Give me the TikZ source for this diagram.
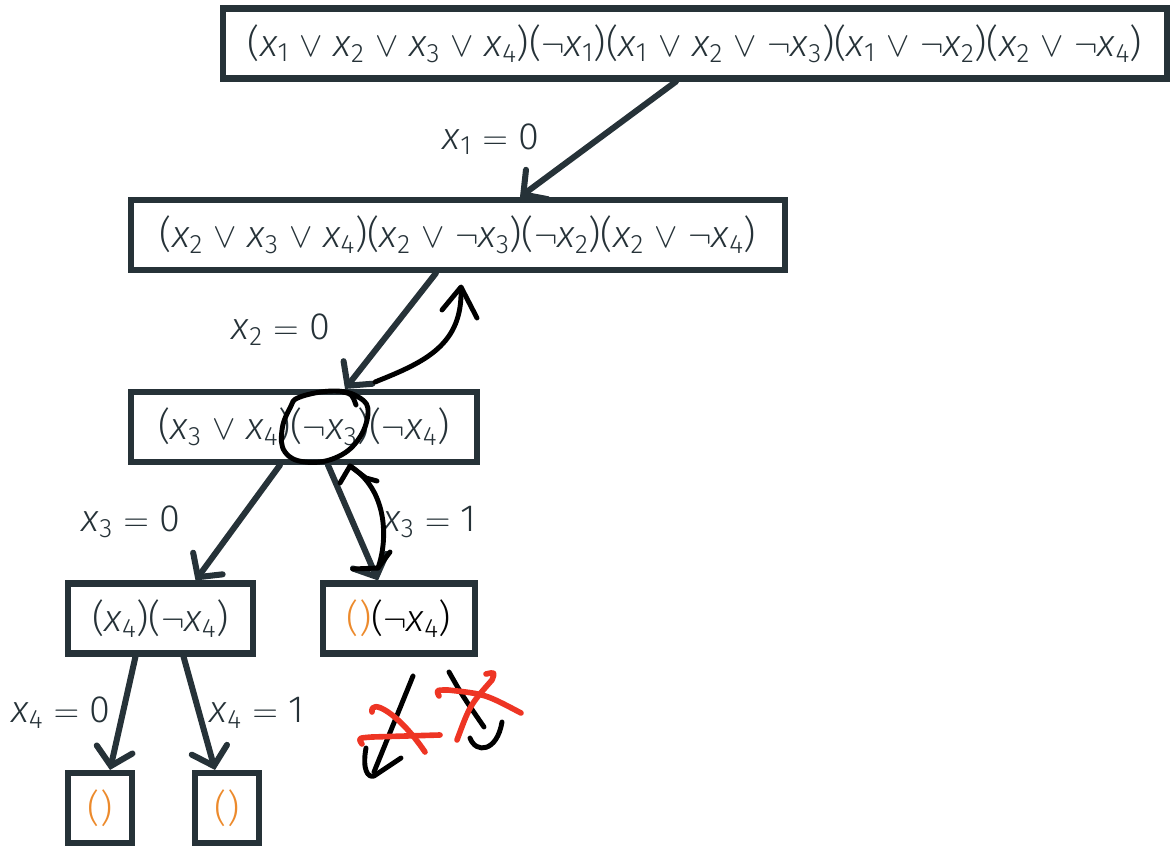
\documentclass[tikz,border=0pt]{standalone}
\usepackage{fontspec}
\setmainfont{Fira Sans}[UprightFont=* Light, ItalicFont=* Light Italic]
\usepackage{tikz}
\usetikzlibrary{arrows.meta,calc}

\definecolor{slate}{HTML}{263238}
\definecolor{empty}{HTML}{EC8A2C}
\definecolor{strike}{HTML}{EE3524}

\newcommand{\lit}[1]{\textit{x}\textsubscript{#1}}
\newcommand{\orr}{ $\vee$ }
\newcommand{\nlit}[1]{$\neg$\lit{#1}}
\newcommand{\is}{ $=$ }

\begin{document}
\begin{tikzpicture}[x=0.025cm, y=-0.025cm,
		clause/.style={draw=slate, line width=4.3pt, inner sep=0pt, minimum height=1.75cm,
			text=slate, font=\fontsize{27}{32}\selectfont},
		branch/.style={draw=slate, line width=4.3pt, line cap=round,
			-{Straight Barb[length=12pt,width=26pt,line cap=round]}},
		guess/.style={text=slate, font=\fontsize{27}{32}\selectfont},
		pen/.style={black, line width=3.5pt, line cap=round, line join=round},
		cross/.style={strike, line width=4pt, line cap=round, line join=round}]
		\useasboundingbox (0,0) rectangle (1173,848);
		
		% the formula after each guess
		\node[clause, minimum width=23.6cm] (root) at (695,43.5)
			{(\lit1\orr\lit2\orr\lit3\orr\lit4)(\nlit1)(\lit1\orr\lit2\orr\nlit3)(\lit1\orr\nlit2)(\lit2\orr\nlit4)};
		\node[clause, minimum width=16.35cm] (f1) at (458,235)
			{(\lit2\orr\lit3\orr\lit4)(\lit2\orr\nlit3)(\nlit2)(\lit2\orr\nlit4)};
		\node[clause, minimum width=8.65cm] (f2) at (304,427)
			{(\lit3\orr\lit4)(\nlit3)(\nlit4)};
		\node[clause, minimum width=4.625cm] (f3) at (160.5,618.5)
			{(\lit4)(\nlit4)};
		\node[clause, minimum width=3.8cm] (g3) at (399,618.5)
			{{\color{empty}()}{\color{black}(\nlit4)}};
		\node[clause, minimum width=1.6cm] (f4) at (100,808) {\color{empty}()};
		\node[clause, minimum width=1.6cm] (g4) at (227,808) {\color{empty}()};
		
		% branches
		\draw[branch] ($(root.south)+(-19,0)$) -- ($(f1.north)+(62,0)$);
		\draw[branch] ($(f1.south)+(-22,0)$) -- ($(f2.north)+(41,0)$);
		\draw[branch] ($(f2.south)+(-24,0)$) -- ($(f3.north)+(35,0)$);
		\draw[branch] ($(f2.south)+(24,0)$) -- ($(g3.north)+(-21,0)$);
		\draw[branch] ($(f3.south)+(-25,0)$) -- ($(f4.north)+(10,0)$);
		\draw[branch] ($(f3.south)+(23,0)$) -- ($(g4.north)+(-12,0)$);
		
		\node[guess] (a1) at (491,139) {\lit1\is0};
		\node[guess] (a2) at (281,330) {\lit2\is0};
		\node[guess] (a3) at (131,522) {\lit3\is0};
		\node[guess] (b3) at (430,522) {\lit3\is1};
		\node[guess] (a4) at (61,713) {\lit4\is0};
		\node[guess] (b4) at (257,713) {\lit4\is1};
		
		% pen notes: unit clause and backtracking
		\draw[pen] plot[smooth cycle, tension=0.7] coordinates {(300,397) (335,391) (360,398) (368,413)
			(358,440) (335,458) (305,462) (285,452) (282,430) (290,408)};
		\draw[pen] (343,392) .. controls (352,394) .. (356,405);
		\draw[pen] (375,382) .. controls (425,362) and (463,345) .. (461,288);
		\draw[pen] (442,310) -- (461,287) -- (477,318);
		\draw[pen] (350,466) .. controls (388,490) and (388,540) .. (378,568);
		\draw[pen] (340,483) -- (350,466) -- (366,478) -- (377,481);
		\draw[pen] (353,569) -- (378,568) -- (390,552);
		
		% the two moves that are not taken
		\draw[pen] (413,676) -- (374,772);
		\draw[pen] (366,748) .. controls (362,770) and (368,778) .. (374,776) -- (401,758);
		\draw[pen] (449,672) .. controls (462,695) .. (484,727);
		\draw[pen] (470,738) .. controls (476,754) and (497,752) .. (502,722);
		\draw[cross] (362,744) .. controls (358,738) .. (372,737) -- (440,735);
		\draw[cross] (372,712) .. controls (370,698) and (398,712) .. (425,752);
		\draw[cross] (439,696) .. controls (436,690) .. (448,690) .. controls (485,694) .. (521,713);
		\draw[cross] (486,674) .. controls (495,672) .. (492,680) .. controls (470,705) .. (457,740);
	\end{tikzpicture}
\end{document}
